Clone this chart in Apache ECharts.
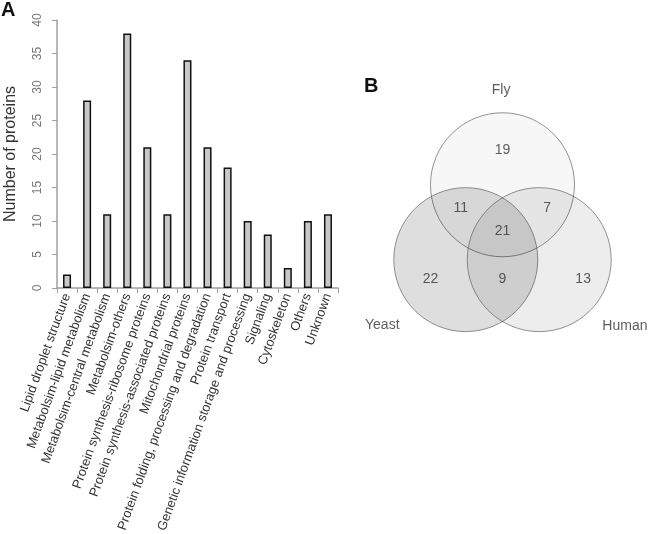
<!DOCTYPE html>
<html><head><meta charset="utf-8">
<script src="https://cdn.jsdelivr.net/npm/echarts@6/dist/echarts.min.js"></script>
<style>html,body{margin:0;padding:0;background:#fff}#c{width:650px;height:534px}</style>
</head><body><div id="c"></div>
<script>
const categories = ["Lipid droplet structure","Metabolsim-lipid metabolism","Metabolsim-central metabolism","Metabolsim-others","Protein synthesis-ribosome proteins","Protein synthesis-associated proteins","Mitochondrial proteins","Protein folding, processing and degradation","Protein transport","Genetic information storage and processing","Signaling","Cytoskeleton","Others","Unknown"];
const counts = [2,28,11,38,21,11,34,21,18,10,8,3,10,11];
const yTicks = [0,5,10,15,20,25,30,35,40];

const vennSets = ["Fly","Yeast","Human"];
const vennRegions = ["Fly only","Fly & Yeast","Fly & Human","All three","Yeast only","Yeast & Human","Human only"];
const vennCounts = [19,11,7,21,22,9,13];

// Venn layout geometry (in circle-radius units)
const setCenters = [[0,0.52],[-0.51,-0.52],[0.51,-0.52]];
const setFill = ['rgba(0,0,0,0.04)','rgba(0,0,0,0.16)','rgba(0,0,0,0.09)'];
const setLabelPos = [[-0.02,1.83],[-1.67,-1.43],[1.70,-1.45]];
const regionPos = [[0,1.0],[-0.58,0.2],[0.62,0.2],[0,-0.13],[-1.0,-0.79],[0,-0.79],[1.12,-0.79]];

const FONT = '"Liberation Sans", Arial, sans-serif';
const R = 72;
const vennSpan = 3.8, vennPx = vennSpan * R;

const chart = echarts.init(document.getElementById('c'));
chart.setOption({
  backgroundColor:'#fff',
  animation:false,
  textStyle:{fontFamily:FONT},
  graphic:[
    {type:'text',left:1,top:0,style:{text:'A',font:'bold 20px '+FONT,fill:'#111'}},
    {type:'text',left:364,top:76,style:{text:'B',font:'bold 20px '+FONT,fill:'#111'}}
  ],
  grid:[
    {left:57,top:20,width:281,height:268,outerBoundsMode:'none'},
    {left:502.5-vennPx/2,top:222.2-vennPx/2,width:vennPx,height:vennPx,outerBoundsMode:'none'}
  ],
  xAxis:[
    {gridIndex:0,type:'category',data:categories,
     axisLine:{lineStyle:{color:'#a0a0a0',width:1.5}},
     axisTick:{show:true,length:5,lineStyle:{color:'#a0a0a0'}},
     axisLabel:{interval:0,rotate:70,fontSize:13,color:'#333',margin:6,fontFamily:FONT}},
    {gridIndex:1,type:'value',min:-vennSpan/2,max:vennSpan/2,show:false}
  ],
  yAxis:[
    {gridIndex:0,type:'value',min:0,max:40,interval:5,
     name:'Number of proteins',nameLocation:'middle',nameRotate:90,nameGap:38,
     nameTextStyle:{fontSize:16,color:'#333',fontFamily:FONT},
     axisLine:{show:true,lineStyle:{color:'#a0a0a0',width:1.5}},
     axisTick:{show:true,length:5,lineStyle:{color:'#a0a0a0'}},
     splitLine:{show:false},
     axisLabel:{rotate:90,fontSize:12,color:'#777',margin:13,fontFamily:FONT,
       formatter:v=>yTicks.includes(v)?String(v):''}},
    {gridIndex:1,type:'value',min:-vennSpan/2,max:vennSpan/2,show:false}
  ],
  series:[
    {type:'bar',xAxisIndex:0,yAxisIndex:0,data:counts,barWidth:'40%',
     itemStyle:{color:'#c8c8c8',borderColor:'#111',borderWidth:1.5}},
    {type:'scatter',xAxisIndex:1,yAxisIndex:1,symbol:'circle',symbolSize:2*R,
     data:setCenters.map((c,i)=>({value:c,name:vennSets[i],itemStyle:{color:setFill[i],borderColor:'#555',borderWidth:0.8}})),
     label:{show:false},silent:true,z:2},
    {type:'scatter',xAxisIndex:1,yAxisIndex:1,symbolSize:0,
     data:regionPos.map((p,i)=>({value:p,name:vennRegions[i],label:{formatter:String(vennCounts[i])}})),
     label:{show:true,position:'inside',fontSize:14,color:'#333',fontFamily:FONT},z:5},
    {type:'scatter',xAxisIndex:1,yAxisIndex:1,symbolSize:0,
     data:setLabelPos.map((p,i)=>({value:p,name:vennSets[i],label:{formatter:vennSets[i]}})),
     label:{show:true,position:'inside',fontSize:14,color:'#333',fontFamily:FONT},z:5}
  ]
});
</script></body></html>
